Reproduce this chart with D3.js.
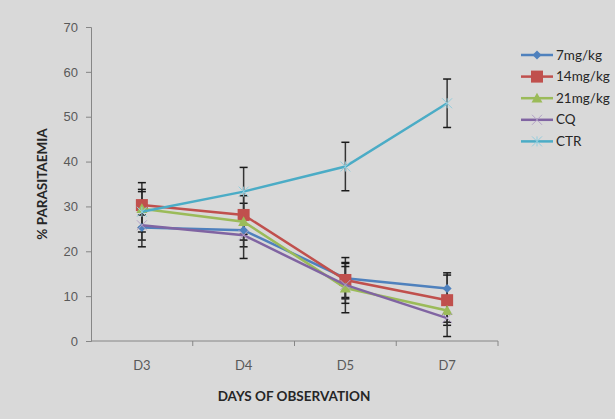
<!DOCTYPE html>
<html>
<head>
<meta charset="utf-8">
<script src="https://cdn.jsdelivr.net/npm/d3@7"></script>
<style>
  body { margin: 0; background: #d9d9d9; }
  svg { display: block; font-family: Lato, "Open Sans", sans-serif; }
</style>
</head>
<body>
<div id="chart"></div>
<script>
const days = ["D3", "D4", "D5", "D7"];
const seriesNames = ["7mg/kg", "14mg/kg", "21mg/kg", "CQ", "CTR"];
const mg7 = [25.3, 24.7, 14.0, 11.7];
const mg14 = [30.3, 28.1, 13.6, 9.1];
const mg21 = [29.5, 26.6, 11.8, 6.8];
const cq = [25.8, 23.6, 12.5, 5.1];
const ctr = [28.8, 33.3, 38.9, 53.0];
const err7 = [2.8, 3.7, 4.6, 3.5];
const err14 = [5.0, 4.3, 3.9, 5.6];
const err21 = [4.3, 4.1, 5.5, 2.6];
const errCq = [4.8, 5.2, 4.1, 4.1];
const errCtr = [4.5, 5.4, 5.4, 5.4];
const yTicks = [0, 10, 20, 30, 40, 50, 60, 70];

const colors = ["#4f81bd", "#c0504d", "#9bbb59", "#8064a2", "#4bacc6"];
const markerColors = ["#4f81bd", "#c0504d", "#9bbb59", "#b3a2c7", "#93cddd"];
const shapes = ["diamond", "square", "triangle", "x", "star"];

const series = seriesNames.map((name, i) => ({
  name,
  values: [mg7, mg14, mg21, cq, ctr][i],
  errs: [err7, err14, err21, errCq, errCtr][i],
  color: colors[i],
  mcolor: markerColors[i],
  shape: shapes[i]
}));

const width = 615, height = 419;
const margin = { top: 27, right: 117, bottom: 78, left: 91 };

const svg = d3.select("#chart").append("svg")
  .attr("width", width)
  .attr("height", height);

svg.append("rect").attr("width", width).attr("height", height).attr("fill", "#d9d9d9");

const x = d3.scaleBand().domain(days).range([margin.left, width - margin.right]);
const y = d3.scaleLinear().domain([0, 70]).range([height - margin.bottom, margin.top]);
const cx = d => x(d) + x.bandwidth() / 2;

// axes
const axisColor = "#868686";
const yAxis = svg.append("g")
  .attr("transform", `translate(${margin.left},0)`)
  .call(d3.axisLeft(y).tickValues(yTicks).tickSize(5).tickPadding(8));
yAxis.select(".domain").attr("stroke", axisColor);
yAxis.selectAll(".tick line").attr("stroke", axisColor);
yAxis.selectAll(".tick text").attr("fill", "#595959").attr("font-size", 13);

const xAxis = svg.append("g")
  .attr("transform", `translate(0,${height - margin.bottom})`);
xAxis.append("line")
  .attr("x1", margin.left).attr("x2", width - margin.right)
  .attr("stroke", axisColor);
xAxis.selectAll(".xtick")
  .data(days.slice(1).concat(["end"]))
  .join("line")
  .attr("x1", (d, i) => x(days[0]) + x.bandwidth() * (i + 1))
  .attr("x2", (d, i) => x(days[0]) + x.bandwidth() * (i + 1))
  .attr("y1", 0).attr("y2", 5)
  .attr("stroke", axisColor);
xAxis.selectAll(".xlab")
  .data(days)
  .join("text")
  .attr("x", d => cx(d))
  .attr("y", 29)
  .attr("text-anchor", "middle")
  .attr("fill", "#595959")
  .attr("font-size", 13)
  .text(d => d);

svg.append("text")
  .attr("x", 294).attr("y", 401)
  .attr("text-anchor", "middle")
  .attr("font-size", 13.5).attr("font-weight", "bold").attr("fill", "#262626")
  .text("DAYS OF OBSERVATION");

svg.append("text")
  .attr("transform", "translate(47,184) rotate(-90)")
  .attr("text-anchor", "middle")
  .attr("font-size", 13.5).attr("font-weight", "bold").attr("fill", "#262626")
  .text("% PARASITAEMIA");

// markers
function drawMarker(g, shape, fill, stroke, s) {
  if (shape === "diamond") {
    g.append("path").attr("d", `M0,${-s}L${s},0L0,${s}L${-s},0Z`).attr("fill", fill);
  } else if (shape === "square") {
    g.append("rect").attr("x", -s).attr("y", -s).attr("width", 2 * s).attr("height", 2 * s).attr("fill", fill);
  } else if (shape === "triangle") {
    g.append("path").attr("d", `M0,${-s}L${s},${s * 0.8}L${-s},${s * 0.8}Z`).attr("fill", fill);
  } else if (shape === "x") {
    g.append("path").attr("d", `M${-s},${-s}L${s},${s}M${-s},${s}L${s},${-s}`).attr("stroke", stroke).attr("stroke-width", 1);
  } else {
    g.append("path").attr("d", `M${-s},${-s}L${s},${s}M${-s},${s}L${s},${-s}M0,${-s}L0,${s}`).attr("stroke", stroke).attr("stroke-width", 1);
  }
}
const markerSize = [4.5, 6, 5.5, 5, 5];

const line = d3.line().x((d, i) => cx(days[i])).y(d => y(d));

series.forEach((s, si) => {
  const g = svg.append("g");
  // error bars
  s.values.forEach((v, i) => {
    const px = cx(days[i]);
    const e = s.errs[i];
    g.append("line").attr("x1", px).attr("x2", px)
      .attr("y1", y(v - e)).attr("y2", y(v + e))
      .attr("stroke", "#333").attr("stroke-width", 1.5);
    [v - e, v + e].forEach(val => {
      g.append("line").attr("x1", px - 4).attr("x2", px + 4)
        .attr("y1", y(val)).attr("y2", y(val))
        .attr("stroke", "#1a1a1a").attr("stroke-width", 1.5);
    });
  });
});

series.forEach((s, si) => {
  const g = svg.append("g");
  g.append("path")
    .datum(s.values)
    .attr("d", line)
    .attr("fill", "none")
    .attr("stroke", s.color)
    .attr("stroke-width", 2.5);
  s.values.forEach((v, i) => {
    const mg = g.append("g").attr("transform", `translate(${cx(days[i])},${y(v)})`);
    drawMarker(mg, s.shape, s.mcolor, s.mcolor, markerSize[si]);
  });
});

// legend
const legend = svg.append("g").attr("transform", "translate(521,55)");
series.forEach((s, i) => {
  const row = legend.append("g").attr("transform", `translate(0,${i * 21.6})`);
  row.append("line").attr("x1", 0).attr("x2", 32).attr("stroke", s.color).attr("stroke-width", 2.5);
  const mg = row.append("g").attr("transform", "translate(16,0)");
  drawMarker(mg, s.shape, s.mcolor, s.mcolor, markerSize[i]);
  row.append("text").attr("x", 35).attr("y", 4.5)
    .attr("font-size", 13.5).attr("fill", "#262626")
    .text(s.name);
});
</script>
</body>
</html>
